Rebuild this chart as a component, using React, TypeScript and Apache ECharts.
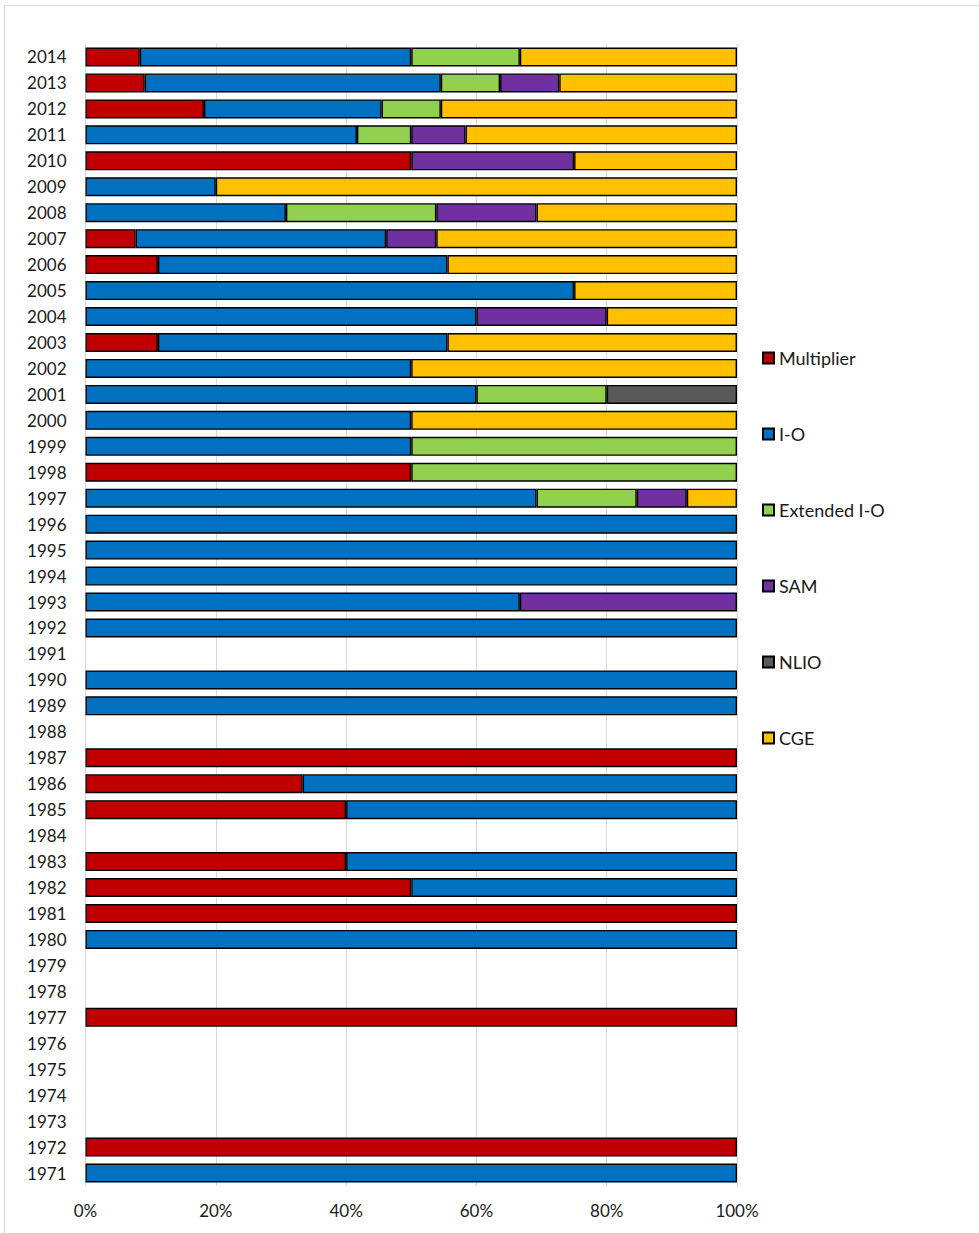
import React, { useEffect, useRef } from "react";
import * as echarts from "echarts";

// Years on the category axis, bottom (1971) to top (2014)
const years: string[] = [];
for (let y = 1971; y <= 2014; y++) years.push(String(y));

const xTicks = [0, 20, 40, 60, 80, 100];

// Share of studies (%) by method, listed as [year, share]
const multiplier: [number, number][] = [
  [1972, 100], [1977, 100], [1981, 100], [1982, 50], [1983, 40], [1985, 40],
  [1986, 33.33], [1987, 100], [1998, 50], [2003, 11.11], [2006, 11.11],
  [2007, 7.69], [2010, 50], [2012, 18.18], [2013, 9.09], [2014, 8.33],
];
const io: [number, number][] = [
  [1971, 100], [1980, 100], [1982, 50], [1983, 60], [1985, 60], [1986, 66.67],
  [1989, 100], [1990, 100], [1992, 100], [1993, 66.67], [1994, 100], [1995, 100],
  [1996, 100], [1997, 69.23], [1999, 50], [2000, 50], [2001, 60], [2002, 50],
  [2003, 44.44], [2004, 60], [2005, 75], [2006, 44.44], [2007, 38.46],
  [2008, 30.77], [2009, 20], [2011, 41.67], [2012, 27.27], [2013, 45.45],
  [2014, 41.67],
];
const extendedIO: [number, number][] = [
  [1997, 15.38], [1998, 50], [1999, 50], [2001, 20], [2008, 23.08],
  [2011, 8.33], [2012, 9.09], [2013, 9.09], [2014, 16.67],
];
const sam: [number, number][] = [
  [1993, 33.33], [1997, 7.69], [2004, 20], [2007, 7.69], [2008, 15.38],
  [2010, 25], [2011, 8.33], [2013, 9.09],
];
const nlio: [number, number][] = [[2001, 20]];
const cge: [number, number][] = [
  [1997, 7.69], [2000, 50], [2002, 50], [2003, 44.44], [2004, 20], [2005, 25],
  [2006, 44.44], [2007, 46.15], [2008, 30.77], [2009, 80], [2010, 25],
  [2011, 41.67], [2012, 45.45], [2013, 27.27], [2014, 33.33],
];

const methods: { name: string; color: string; values: [number, number][] }[] = [
  { name: "Multiplier", color: "#C00000", values: multiplier },
  { name: "I-O", color: "#0070C0", values: io },
  { name: "Extended I-O", color: "#92D050", values: extendedIO },
  { name: "SAM", color: "#7030A0", values: sam },
  { name: "NLIO", color: "#595959", values: nlio },
  { name: "CGE", color: "#FFC000", values: cge },
];

function toSeriesData(values: [number, number][]): (number | null)[] {
  const byYear = new Map(values);
  return years.map((y) => byYear.get(Number(y)) ?? null);
}

const FONT = "Lato, 'Open Sans', sans-serif";

export default function App() {
  const ref = useRef<HTMLDivElement>(null);

  useEffect(() => {
    if (!ref.current) return;
    const chart = echarts.init(ref.current, undefined, { renderer: "svg" });
    chart.setOption({
      animation: false,
      backgroundColor: "#ffffff",
      textStyle: { fontFamily: FONT },
      graphic: [
        {
          type: "rect",
          shape: { x: 4.5, y: 5.5, width: 1100, height: 1300 },
          style: { fill: "none", stroke: "#d9d9d9", lineWidth: 1 },
          silent: true,
        },
      ],
      grid: { left: 85.5, right: 242, top: 44, bottom: 47, containLabel: false },
      legend: {
        orient: "vertical",
        left: 762,
        top: 348,
        padding: 0,
        icon: "rect",
        itemWidth: 11,
        itemHeight: 11,
        itemGap: 56,
        textStyle: { fontFamily: FONT, fontSize: 18, color: "#1a1a1a", lineHeight: 20 },
        data: methods.map((m) => m.name),
      },
      xAxis: {
        type: "value",
        min: 0,
        max: 100,
        interval: 20,
        axisLine: { show: false },
        axisTick: { show: false },
        axisLabel: {
          formatter: (v: number) => (xTicks.includes(v) ? `${v}%` : ""),
          fontFamily: FONT,
          fontSize: 17,
          color: "#1a1a1a",
          margin: 16,
        },
        splitLine: { show: true, lineStyle: { color: "#d9d9d9", width: 1 } },
      },
      yAxis: {
        type: "category",
        data: years,
        axisLine: { show: false },
        axisTick: { show: false },
        axisLabel: {
          fontFamily: FONT,
          fontSize: 17,
          color: "#1a1a1a",
          margin: 19,
          interval: 0,
        },
      },
      series: methods.map((m) => ({
        name: m.name,
        type: "bar",
        stack: "share",
        barWidth: 19,
        data: toSeriesData(m.values),
        itemStyle: { color: m.color, borderColor: "#000000", borderWidth: 1.4 },
        emphasis: { disabled: true },
      })),
    });
    return () => chart.dispose();
  }, []);

  return (
    <div
      ref={ref}
      style={{ position: "fixed", left: 0, top: 0, width: 979, height: 1233 }}
    />
  );
}
